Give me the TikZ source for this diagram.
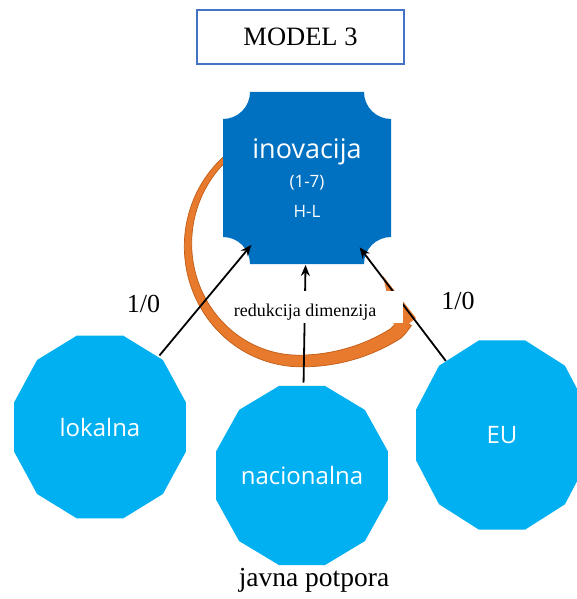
\documentclass[tikz,border=0pt]{standalone}
\usepackage{fontspec}
\setmainfont{Liberation Serif}
\newfontfamily\sansf{Open Sans}
\usetikzlibrary{arrows.meta}
\definecolor{plaqueblue}{HTML}{0070C0}
\definecolor{polyblue}{HTML}{00B0F0}
\definecolor{frameblue}{HTML}{4472C4}
\definecolor{arcfill}{RGB}{232,122,45}
\definecolor{arcedge}{RGB}{192,92,22}
\tikzset{
  titlebox/.style={draw=frameblue, line width=1.5pt, minimum width=207pt, minimum height=54pt, inner sep=0pt, font=\fontsize{26.5}{30}\selectfont},
  polynode/.style={circle, minimum size=186pt, inner sep=0pt, outer sep=0pt, text=white, font=\sansf\fontsize{24}{28}\selectfont},
  inonode/.style={circle, minimum size=174pt, inner sep=0pt, outer sep=0pt, text=white, align=center, font=\sansf\fontsize{17}{29.5}\selectfont},
  conn/.style={line width=1.8pt, -{Stealth[length=11pt,width=9pt]}},
  serifl/.style={inner sep=0pt, font=\fontsize{26}{30}\selectfont},
  redlabel/.style={fill=white, minimum width=177pt, minimum height=32pt, inner sep=0pt, text height=22pt, text depth=4pt, font=\fontsize{18}{22}\selectfont},
  declare function={ff(\t)=1+0.15*(min(1,max(0,(90-\t)/49)))^2; ww(\t)=2.5+4.5*(230-\t)/189;}
}
\newcommand{\dodecagon}[2]{%
  \fill[polyblue, shift={(#1)}] (15:89pt and #2pt) \foreach \a in {45,75,...,345}{ -- (\a:89pt and #2pt)} -- cycle;}
\begin{document}
\begin{tikzpicture}[x=1pt, y=-1pt]
\useasboundingbox (0,0) rectangle (577,599);
% title
\node[titlebox] (title) at (300.5,37) {MODEL 3};
% circular orange arrow
\fill[arcfill, draw=arcedge, line width=0.7pt]
  plot[domain=35:228, samples=90] ({300+(112*ff(\x)+ww(\x))*cos(\x)}, {245+(116*ff(\x)+ww(\x))*sin(\x)})
  -- plot[domain=228:35, samples=90] ({300+(112*ff(\x)-ww(\x))*cos(\x)}, {245+(116*ff(\x)-ww(\x))*sin(\x)})
  -- cycle;
\fill[arcfill] (383,276) -- (416,318) -- (396,334) -- cycle;
% plaque
\fill[plaqueblue] (223,119) arc[start angle=270, end angle=360, radius=27pt]
  -- (364,92) arc[start angle=180, end angle=270, radius=27pt]
  -- (391,237) arc[start angle=90, end angle=180, radius=27pt]
  -- (250,264) arc[start angle=0, end angle=90, radius=27pt] -- cycle;
\node[inonode] (ino) at (307,178) {{\fontsize{27}{30}\selectfont inovacija}\\(1-7)\\H-L};
% dodecagons
\coordinate (lokc) at (100,427);
\coordinate (natc) at (302,475.5);
\coordinate (euc) at (502,435);
\dodecagon{lokc}{94.7}
\dodecagon{natc}{92.7}
\dodecagon{euc}{98}
\node[polynode] (lok) at (lokc) {lokalna};
\node[polynode] (nat) at (natc) {nacionalna};
\node[polynode] (eu) at (euc) {EU};
% connectors
\draw[conn] (lok) -- (ino);
\draw[conn] (nat) -- (ino);
\draw[conn] (eu) -- (ino);
% labels
\node[redlabel] (red) at (314.5,307) {redukcija dimenzija\kern19pt};
\node[serifl] (oneleft) at (143.5,304) {1/0};
\node[serifl] (oneright) at (458,300.5) {1/0};
\node[serifl, anchor=base, font=\fontsize{27.5}{30}\selectfont] (javna) at (314,586) {javna potpora};
\end{tikzpicture}
\end{document}
